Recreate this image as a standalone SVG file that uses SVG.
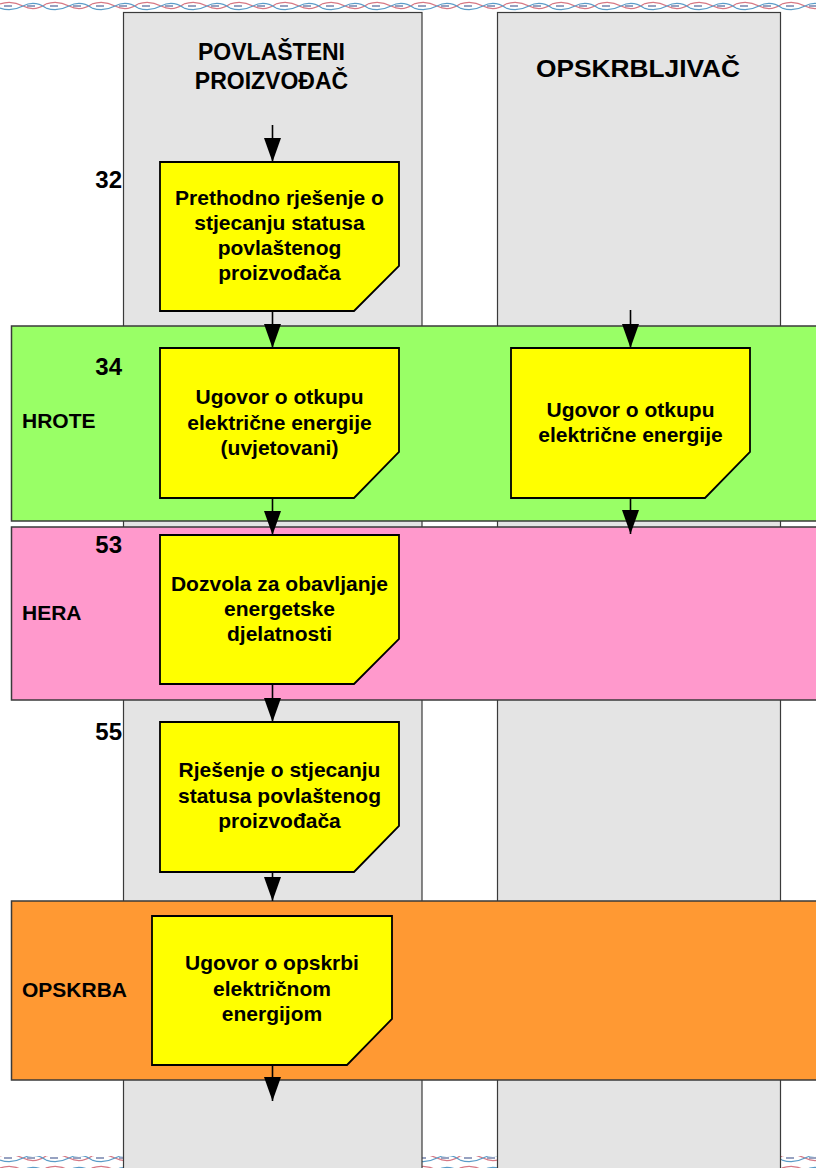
<svg xmlns="http://www.w3.org/2000/svg" width="816" height="1168" viewBox="0 0 816 1168">
<style>
.lane{fill:#E4E4E4;stroke:#3a3a3a;stroke-width:1.2}
.band{stroke:#3a3a3a;stroke-width:1.5}
.node{fill:#FFFF00;stroke:#000;stroke-width:1.8}
.t{font-family:"Liberation Sans",Arial,sans-serif;font-weight:bold;fill:#000}
.nt{font-size:21px;text-anchor:middle}
.hd{font-size:23px;text-anchor:middle}
.num{font-size:24px;text-anchor:end}
.bl{font-size:21px}
.conn{stroke:#000;stroke-width:1.6;fill:none;marker-end:url(#ah)}
</style>
<defs>
<marker id="ah" markerUnits="userSpaceOnUse" markerWidth="24" markerHeight="17" refX="24" refY="8.5" orient="auto">
<path d="M0,0 L24,8.5 L0,17 z" fill="#000"/>
</marker>
<pattern id="wave" patternUnits="userSpaceOnUse" width="46" height="12">
<path d="M0,4 Q11.5,0 23,6 T46,4" fill="none" stroke="#d77884" stroke-width="1.3"/>
<path d="M0,8 Q11.5,12 23,6 T46,8" fill="none" stroke="#5a9cc8" stroke-width="1.3"/>
<path d="M4,6 L12,6 M27,6 L35,6" stroke="#3a4f8a" stroke-width="1.6" opacity="0.7"/>
</pattern>
</defs>
<rect width="816" height="1168" fill="#fff"/>
<g id="border">
<rect x="0" y="1" width="816" height="12" fill="url(#wave)"/>
<rect x="0" y="1156" width="816" height="12" fill="url(#wave)"/>
</g>
<g id="lanes">
<rect class="lane" x="123.5" y="12.5" width="298.5" height="1160"/>
<rect class="lane" x="497.5" y="12.5" width="283" height="1160"/>
<text class="t hd" x="271.5" y="60">POVLAŠTENI</text>
<text class="t hd" x="271.5" y="89">PROIZVOĐAČ</text>
<text class="t hd" x="638" y="77" style="font-size:24px" textLength="204" lengthAdjust="spacingAndGlyphs">OPSKRBLJIVAČ</text>
</g>
<g id="bands">
<rect class="band" x="11.5" y="326" width="820" height="195" fill="#99FF66"/>
<rect class="band" x="11.5" y="527" width="820" height="173" fill="#FF99CC"/>
<rect class="band" x="11.5" y="901" width="820" height="179" fill="#FF9933"/>
<text class="t bl" x="22" y="428">HROTE</text>
<text class="t bl" x="22" y="620">HERA</text>
<text class="t bl" x="22" y="997">OPSKRBA</text>
</g>
<g id="numbers">
<text class="t num" x="122" y="188">32</text>
<text class="t num" x="122" y="375">34</text>
<text class="t num" x="122" y="553">53</text>
<text class="t num" x="122" y="740">55</text>
</g>
<g id="n32">
<polygon class="node" points="160,162 399,162 399,266 354,311 160,311"/>
<text class="t nt" x="279.5" y="205">Prethodno rješenje o</text>
<text class="t nt" x="279.5" y="230">stjecanju statusa</text>
<text class="t nt" x="279.5" y="255">povlaštenog</text>
<text class="t nt" x="279.5" y="280">proizvođača</text>
</g>
<g id="n34a">
<polygon class="node" points="160,348 399,348 399,452 354,498 160,498"/>
<text class="t nt" x="279.5" y="404">Ugovor o otkupu</text>
<text class="t nt" x="279.5" y="429.5">električne energije</text>
<text class="t nt" x="279.5" y="455">(uvjetovani)</text>
</g>
<g id="n34b">
<polygon class="node" points="511,348 750,348 750,452 705,498 511,498"/>
<text class="t nt" x="630.5" y="417">Ugovor o otkupu</text>
<text class="t nt" x="630.5" y="442">električne energije</text>
</g>
<g id="n53">
<polygon class="node" points="160,535 399,535 399,639 354,684 160,684"/>
<text class="t nt" x="279.5" y="591">Dozvola za obavljanje</text>
<text class="t nt" x="279.5" y="616">energetske</text>
<text class="t nt" x="279.5" y="641">djelatnosti</text>
</g>
<g id="n55">
<polygon class="node" points="160,722 399,722 399,826 354,872 160,872"/>
<text class="t nt" x="279.5" y="777">Rješenje o stjecanju</text>
<text class="t nt" x="279.5" y="803">statusa povlaštenog</text>
<text class="t nt" x="279.5" y="828">proizvođača</text>
</g>
<g id="nopskrba">
<polygon class="node" points="152,916 392,916 392,1019 347,1065 152,1065"/>
<text class="t nt" x="272" y="970">Ugovor o opskrbi</text>
<text class="t nt" x="272" y="996">električnom</text>
<text class="t nt" x="272" y="1021">energijom</text>
</g>
<g id="connectors">
<line class="conn" x1="272.5" y1="125" x2="272.5" y2="162"/>
<line class="conn" x1="272.5" y1="311" x2="272.5" y2="348"/>
<line class="conn" x1="272.5" y1="498" x2="272.5" y2="535"/>
<line class="conn" x1="272.5" y1="684" x2="272.5" y2="722"/>
<line class="conn" x1="272.5" y1="872" x2="272.5" y2="901"/>
<line class="conn" x1="272.5" y1="1065" x2="272.5" y2="1101"/>
<line class="conn" x1="630.5" y1="310" x2="630.5" y2="348"/>
<line class="conn" x1="630.5" y1="498" x2="630.5" y2="534"/>
</g>
</svg>
